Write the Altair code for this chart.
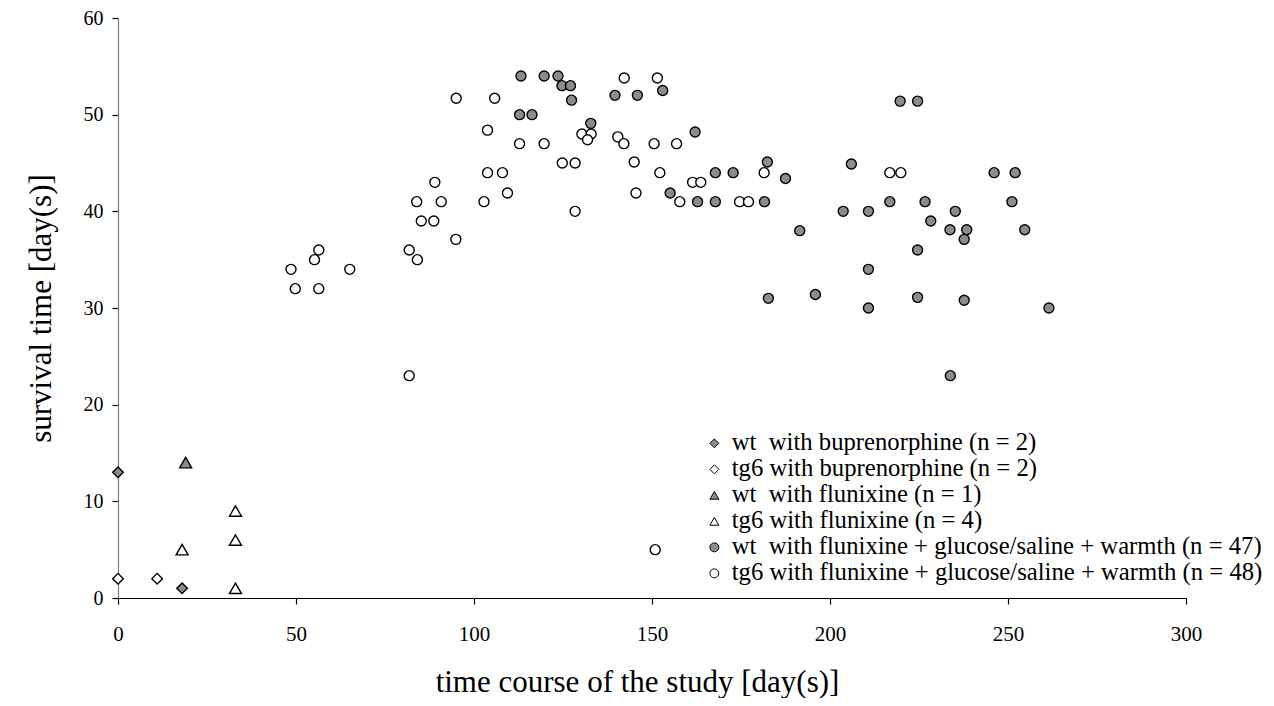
import altair as alt
import pandas as pd

groups = [
    "wt\u00a0\u00a0with buprenorphine (n = 2)",
    "tg6 with buprenorphine (n = 2)",
    "wt\u00a0\u00a0with flunixine (n = 1)",
    "tg6 with flunixine (n = 4)",
    "wt\u00a0\u00a0with flunixine + glucose/saline + warmth (n = 47)",
    "tg6 with flunixine + glucose/saline + warmth (n = 48)",
]
shapes = ["diamond", "diamond", "triangle-up", "triangle-up", "circle", "circle"]
fills = ["#8c8c8c", "#ffffff", "#8c8c8c", "#ffffff", "#8c8c8c", "#ffffff"]
strokes = ["#000000"] * 6

wt_bup_x = [0, 18]
wt_bup_y = [13, 1]
tg_bup_x = [0, 11]
tg_bup_y = [2, 2]
wt_flu_x = [19]
wt_flu_y = [14]
tg_flu_x = [33, 33, 18, 33]
tg_flu_y = [9, 6, 5, 1]

wt_full_x = [113.2, 119.7, 123.6, 124.7, 127.1, 127.4, 112.8, 116.3, 132.8, 139.6,
             145.9, 153.0, 162.1, 182.4, 187.5, 167.8, 172.8, 155.1, 162.8, 167.8,
             181.6, 191.5, 182.7, 219.7, 224.6, 206.0, 246.1, 252.0, 216.8, 226.7,
             251.1, 203.7, 210.8, 235.2, 228.3, 233.7, 238.4, 254.7, 237.7, 224.6,
             210.8, 195.9, 210.8, 224.6, 237.7, 261.5, 233.8]
wt_full_y = [54, 54, 54, 53, 53, 51.5, 50, 50, 49.1, 52,
             52, 52.5, 48.2, 45.1, 43.4, 44, 44, 41.9, 41, 41,
             41, 38, 31, 51.4, 51.4, 44.9, 44, 44, 41, 41,
             41, 40, 40, 40, 39, 38.1, 38.1, 38.1, 37.1, 36,
             34, 31.4, 30, 31.1, 30.8, 30, 23]

tg_full_x = [95.0, 105.8, 103.8, 103.8, 108.0, 89.0, 83.9, 90.8, 102.8, 85.2,
             88.7, 94.9, 56.4, 81.8, 48.6, 55.2, 65.1, 49.8, 56.4, 84.1,
             81.8, 142.2, 151.5, 112.8, 119.7, 130.3, 132.9, 131.9, 140.4, 142.1,
             150.6, 156.9, 124.8, 128.4, 145.0, 152.2, 161.4, 163.7, 181.5, 109.4,
             145.5, 157.8, 174.6, 177.1, 128.4, 150.9, 216.8, 219.9]
tg_full_y = [51.7, 51.7, 48.4, 44, 44, 43, 41, 41, 41, 39,
             39, 37.1, 36, 36, 34, 35, 34, 32, 32, 35,
             23, 53.8, 53.8, 47, 47, 48, 48, 47.4, 47.7, 47,
             47, 47, 45, 45, 45.1, 44, 43, 43, 44, 41.9,
             41.9, 41, 41, 41, 40, 5, 44, 44]

series = [
    (wt_bup_x, wt_bup_y),
    (tg_bup_x, tg_bup_y),
    (wt_flu_x, wt_flu_y),
    (tg_flu_x, tg_flu_y),
    (wt_full_x, wt_full_y),
    (tg_full_x, tg_full_y),
]

rows = []
for g, shp, (xs, ys) in zip(groups, shapes, series):
    for xv, yv in zip(xs, ys):
        rows.append({"x": xv, "y": yv, "group": g, "kind": shp})
df = pd.DataFrame(rows)

font = "Liberation Serif"

base = alt.Chart(df).encode(
    x=alt.X("x:Q", scale=alt.Scale(domain=[0, 300], nice=False),
            axis=alt.Axis(values=[0, 50, 100, 150, 200, 250, 300],
                          title="time course of the study [day(s)]",
                          titlePadding=23, labelPadding=19,
                          titleX=519, titleAlign="center")),
    y=alt.Y("y:Q", scale=alt.Scale(domain=[0, 60], nice=False),
            axis=alt.Axis(values=[0, 10, 20, 30, 40, 50, 60],
                          title="survival time [day(s)]",
                          titlePadding=26, labelPadding=9, labelFontSize=20,
                          domainColor="#808080")),
    shape=alt.Shape("group:N", scale=alt.Scale(domain=groups, range=shapes),
                    legend=alt.Legend(title=None, orient="none",
                                      legendX=584, legendY=413,
                                      symbolStrokeColor="black",
                                      symbolStrokeWidth=1)),
    fill=alt.Fill("group:N", scale=alt.Scale(domain=groups, range=fills)),
    stroke=alt.Stroke("group:N", scale=alt.Scale(domain=groups, range=strokes)),
)

mark_kw = dict(filled=True, strokeWidth=1.4, opacity=1)
diamonds = base.transform_filter("datum.kind == 'diamond'").mark_point(size=112, **mark_kw)
triangles = base.transform_filter("datum.kind == 'triangle-up'").mark_point(size=144, **mark_kw)
circles = base.transform_filter("datum.kind == 'circle'").mark_point(size=100, **mark_kw)

chart = alt.layer(circles, diamonds, triangles).properties(
    width=1068, height=580,
    padding={"left": 110, "top": 10, "right": 80, "bottom": 100},
    autosize=alt.AutoSizeParams(type="none"),
).configure_view(
    stroke=None
).configure_axis(
    grid=False, domainColor="black", tickColor="black", tickSize=6,
    domainWidth=1.2, tickWidth=1.2,
    labelFont=font, labelFontSize=21, labelColor="black",
    titleFont=font, titleFontSize=31, titleFontWeight="normal", titleColor="black",
    labelFlush=False,
).configure_legend(
    labelFont=font, labelFontSize=24.7, labelColor="black", labelLimit=1000,
    symbolSize=80, symbolStrokeColor="black", symbolStrokeWidth=1,
    rowPadding=0, labelOffset=5, padding=0,
)

chart.save("out.html", embed_options={"renderer": "svg", "actions": False})
